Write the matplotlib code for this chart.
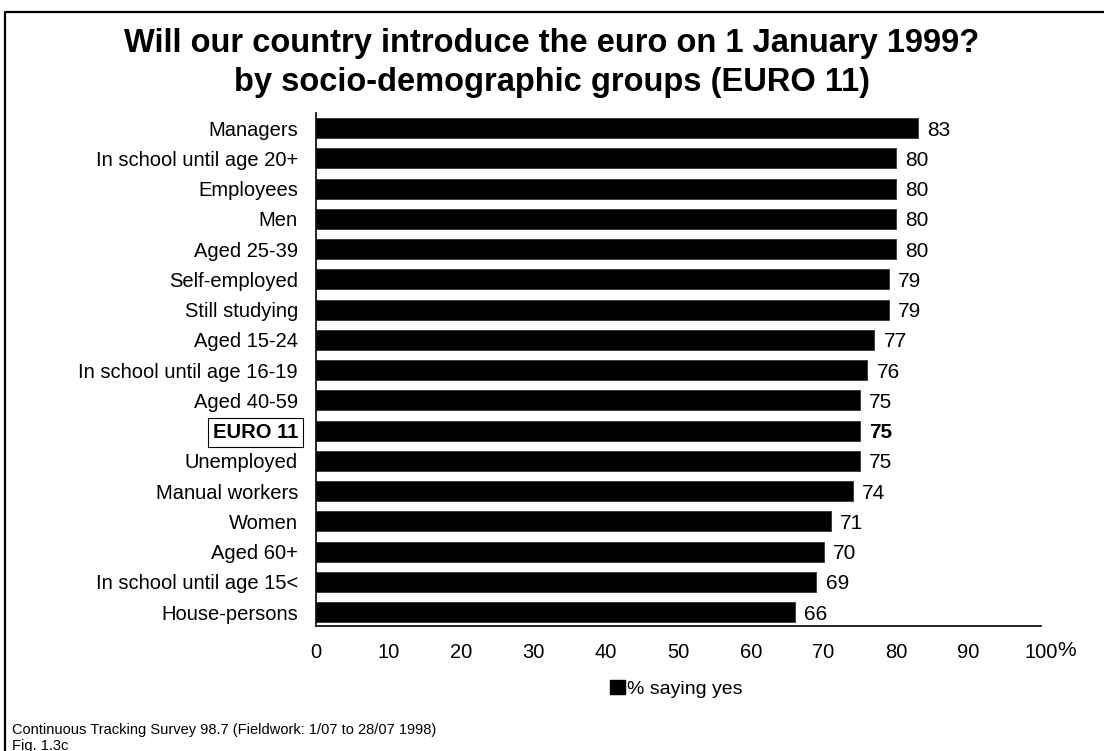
import matplotlib
matplotlib.use("Agg")
import matplotlib.pyplot as plt
from matplotlib.patches import Patch
from matplotlib.lines import Line2D

plt.rcParams['font.family'] = ['Liberation Sans', 'DejaVu Sans']

categories = [
    "Managers", "In school until age 20+", "Employees", "Men", "Aged 25-39",
    "Self-employed", "Still studying", "Aged 15-24", "In school until age 16-19",
    "Aged 40-59", "EURO 11", "Unemployed", "Manual workers", "Women",
    "Aged 60+", "In school until age 15<", "House-persons",
]
values = [83, 80, 80, 80, 80, 79, 79, 77, 76, 75, 75, 75, 74, 71, 70, 69, 66]
highlight = "EURO 11"
xticks = [0, 10, 20, 30, 40, 50, 60, 70, 80, 90, 100]

title = ("Will our country introduce the euro on 1 January 1999?\n"
         "by socio-demographic groups (EURO 11)")
legend_label = "% saying yes"
source_lines = ["Continuous Tracking Survey 98.7 (Fieldwork: 1/07 to 28/07 1998)",
                "Fig. 1.3c"]

W, H = 1104, 751
fig = plt.figure(figsize=(W / 100, H / 100), dpi=100)
fig.patch.set_facecolor("white")

ax = fig.add_axes([316 / W, 1 - 626 / H, 725 / W, (626 - 113) / H])

ypos = list(range(len(categories)))
ax.barh(ypos, values, height=0.66, color="black", edgecolor="#333333", linewidth=0.6)

ax.set_xlim(0, 100)
ax.set_ylim(len(categories) - 0.54, -0.5)
ax.set_yticks(ypos)
ax.set_yticklabels(categories, fontsize=14.5)
ax.set_xticks(xticks)
ax.set_xticklabels([str(t) for t in xticks], fontsize=14.5)
ax.tick_params(axis="both", length=0)
ax.tick_params(axis="y", pad=13)
ax.tick_params(axis="x", pad=12)

for side in ("top", "right"):
    ax.spines[side].set_visible(False)
for side in ("left", "bottom"):
    ax.spines[side].set_linewidth(1.2)

for lbl in ax.get_yticklabels():
    if lbl.get_text() == highlight:
        lbl.set_fontweight("bold")
        lbl.set_bbox(dict(boxstyle="square,pad=0.25", fc="white", ec="black", lw=0.8))

for y, (cat, v) in enumerate(zip(categories, values)):
    ax.text(v + 1.3, y, str(v), va="center_baseline", ha="left", fontsize=15,
            fontweight="bold" if cat == highlight else "normal")

# percent sign next to the last tick label
ax.annotate("%", xy=(100, 0), xycoords=("data", "axes fraction"),
            xytext=(12, -11), textcoords="offset points",
            ha="left", va="top", fontsize=15)

fig.text(0.5, 1 - 63 / H, title, ha="center", va="center", fontsize=23.5,
         fontweight="bold", linespacing=1.35)

fig.legend(handles=[Patch(facecolor="black", edgecolor="black")], labels=[legend_label],
           loc="center", bbox_to_anchor=(676 / W, 1 - 689 / H), frameon=False,
           handlelength=0.75, handleheight=0.75, handletextpad=0.1, fontsize=14)

fig.text(12 / W, 1 - 730 / H, source_lines[0], ha="left", va="center", fontsize=10.5)
fig.text(12 / W, 1 - 746 / H, source_lines[1], ha="left", va="center", fontsize=10.5)

# figure frame (left and top edges)
x0, y0 = 5 / W, 1 - 12 / H
fig.add_artist(Line2D([x0, x0, 1.0], [0.0, y0, y0], transform=fig.transFigure,
                      color="black", linewidth=1.6))

fig.savefig("out.png", dpi=100, facecolor="white")
